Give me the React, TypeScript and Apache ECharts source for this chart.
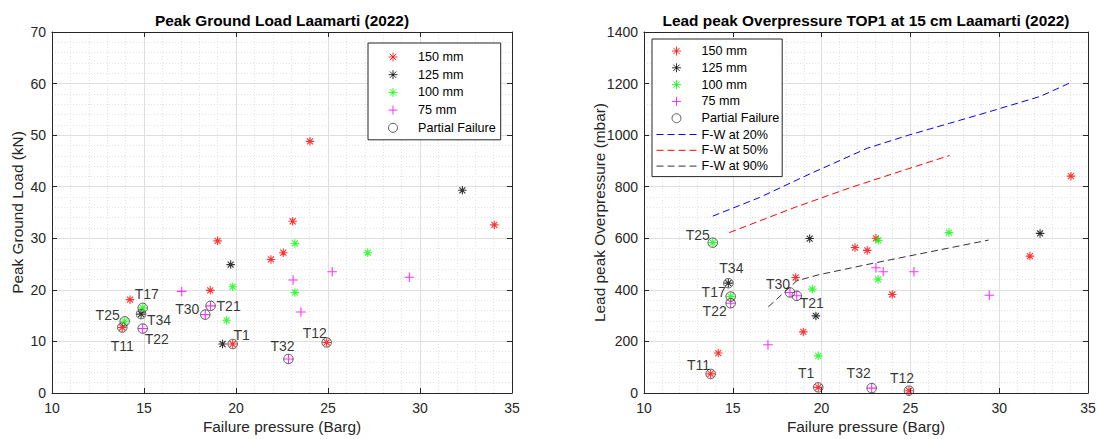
import React, { useEffect, useRef } from 'react';
import * as echarts from 'echarts';

const FONT = '"Liberation Sans", Arial, Helvetica, sans-serif';

// ---------- Left chart: Peak Ground Load ----------
const loadTitle = 'Peak Ground Load Laamarti (2022)';
const loadYName = 'Peak Ground Load (kN)';
const xName = 'Failure pressure (Barg)';
const xTicks = { min: 10, max: 35, interval: 5 };
const loadTicks = { min: 0, max: 70, interval: 10 };

const load150: number[][] = [
  [23.08, 33.3], [19.0, 29.5], [22.57, 27.2], [21.9, 25.9], [18.6, 19.9], [14.24, 18.1],
  [13.82, 12.7], [19.82, 9.5], [24.93, 9.8], [24.02, 48.8], [34.04, 32.6],
];
const load125: number[][] = [[19.71, 24.9], [14.84, 15.3], [19.27, 9.5], [32.3, 39.3]];
const load100: number[][] = [
  [23.2, 29.0], [19.82, 20.6], [23.2, 19.5], [14.93, 16.5], [13.95, 13.9], [19.49, 14.1], [27.16, 27.2],
];
const load75: number[][] = [
  [25.23, 23.5], [23.1, 21.9], [17.05, 19.7], [18.62, 16.9], [18.33, 15.2], [23.53, 15.7],
  [14.93, 12.5], [22.85, 6.6], [29.42, 22.45],
];
const loadPartialNames = ['T25', 'T17', 'T34', 'T11', 'T22', 'T30', 'T21', 'T1', 'T32', 'T12'];
const loadPartial: number[][] = [
  [13.95, 13.9], [14.93, 16.5], [14.84, 15.3], [13.82, 12.7], [14.93, 12.5],
  [18.33, 15.2], [18.62, 16.9], [19.82, 9.5], [22.85, 6.6], [24.93, 9.8],
];

// ---------- Right chart: Lead peak overpressure ----------
const opTitle = 'Lead peak Overpressure TOP1 at 15 cm Laamarti (2022)';
const opYName = 'Lead peak Overpressure (mbar)';
const opTicks = { min: 0, max: 1400, interval: 200 };

const op150: number[][] = [
  [34.04, 841], [31.73, 531], [23.06, 600], [21.88, 564], [22.57, 553], [23.98, 382],
  [18.54, 448], [18.97, 237], [14.18, 155], [13.75, 74], [19.81, 22], [24.92, 9],
];
const op125: number[][] = [[32.3, 619], [19.33, 599], [14.75, 426], [19.68, 299]];
const op100: number[][] = [
  [27.17, 622], [23.19, 592], [23.18, 441], [13.87, 583], [19.48, 403], [14.88, 374], [19.81, 144],
];
const op75: number[][] = [
  [23.06, 486], [23.47, 470], [25.2, 470], [29.44, 379], [18.22, 390], [18.6, 377],
  [14.88, 348], [16.98, 187], [22.82, 19],
];
const opPartialNames = ['T25', 'T34', 'T17', 'T22', 'T30', 'T21', 'T11', 'T1', 'T32', 'T12'];
const opPartial: number[][] = [
  [13.87, 583], [14.75, 426], [14.88, 374], [14.88, 348], [18.22, 390],
  [18.6, 377], [13.75, 74], [19.81, 22], [22.82, 19], [24.92, 9],
];
const fw20: number[][] = [
  [13.87, 686], [16.5, 758], [19.35, 850], [22.6, 950], [24.9, 1000],
  [27.2, 1046], [29.4, 1090], [32.3, 1150], [34.0, 1203],
];
const fw50: number[][] = [[14.8, 622], [18.5, 720], [21.6, 796], [24.9, 870], [27.2, 921]];
const fw90: number[][] = [[17.0, 334], [18.6, 435], [19.8, 458], [23.1, 506], [25.2, 535], [29.4, 593]];

const seriesNames = ['150 mm', '125 mm', '100 mm', '75 mm', 'Partial Failure'];
const lineNames = ['F-W at 20%', 'F-W at 50%', 'F-W at 90%'];

// ---------- styles ----------
const STAR = 'path://M5,0L5,10M0,5L10,5M1.46,1.46L8.54,8.54M8.54,1.46L1.46,8.54';
const PLUS = 'path://M5,0L5,10M0,5L10,5';
const AX = '#262626';
const DASH = [7, 4];
const lineColors: Record<string, string> = {
  'F-W at 20%': '#0000ff',
  'F-W at 50%': '#ff0000',
  'F-W at 90%': '#333333',
};

const loadLabelOffsets: Record<string, number[]> = {
  T25: [-17, -6], T17: [4, -14], T34: [18, 6], T11: [0, 18], T22: [14, 10],
  T30: [-18, -6], T21: [18, 0], T1: [9, -9], T32: [-6, -13], T12: [-12, -9],
};
const opLabelOffsets: Record<string, number[]> = {
  T25: [-15, -8], T34: [3, -15], T17: [-17, -5], T22: [-16, 8], T30: [-12, -8],
  T21: [15, 7], T11: [-12, -9], T1: [-12, -14], T32: [-13, -15], T12: [-7, -13],
};

function xAxes(gridIndex: number) {
  const base = { type: 'value', gridIndex, ...xTicks };
  return [
    {
      ...base,
      position: 'bottom',
      name: xName,
      nameLocation: 'middle',
      nameGap: 26,
      nameMoveOverlap: false,
      nameTextStyle: { fontSize: 15.4, color: AX, fontFamily: FONT },
      axisLine: { show: true, onZero: false, lineStyle: { color: AX, width: 1 } },
      axisTick: { show: true, inside: true, length: 5, lineStyle: { color: AX } },
      axisLabel: { fontSize: 14, color: AX, margin: 8, fontFamily: FONT, formatter: (v: number) => String(v) },
      splitLine: { show: true, lineStyle: { color: '#dfdfdf', width: 1 } },
      minorTick: { show: false, splitNumber: 5 },
      minorSplitLine: { show: true, lineStyle: { color: '#e2e2e2', width: 1, type: [1, 2] } },
    },
    {
      ...base,
      position: 'top',
      axisLine: { show: true, onZero: false, lineStyle: { color: AX, width: 1 } },
      axisTick: { show: true, inside: true, length: 5, lineStyle: { color: AX } },
      axisLabel: { show: false },
      splitLine: { show: false },
    },
  ];
}

function yAxes(gridIndex: number, ticks: any, name: string, nameGap: number) {
  const base = { type: 'value', gridIndex, ...ticks };
  return [
    {
      ...base,
      position: 'left',
      name,
      nameLocation: 'middle',
      nameGap,
      nameMoveOverlap: false,
      nameTextStyle: { fontSize: 15.4, color: AX, fontFamily: FONT },
      axisLine: { show: true, onZero: false, lineStyle: { color: AX, width: 1 } },
      axisTick: { show: true, inside: true, length: 5, lineStyle: { color: AX } },
      axisLabel: { fontSize: 14, color: AX, margin: 6, fontFamily: FONT, formatter: (v: number) => String(v) },
      splitLine: { show: true, lineStyle: { color: '#dfdfdf', width: 1 } },
      minorTick: { show: false, splitNumber: 5 },
      minorSplitLine: { show: true, lineStyle: { color: '#e2e2e2', width: 1, type: [1, 2] } },
    },
    {
      ...base,
      position: 'right',
      axisLine: { show: true, onZero: false, lineStyle: { color: AX, width: 1 } },
      axisTick: { show: true, inside: true, length: 5, lineStyle: { color: AX } },
      axisLabel: { show: false },
      splitLine: { show: false },
    },
  ];
}

function markerSeries(name: string, data: number[][], color: string, symbol: string, axis: number) {
  return {
    type: 'scatter',
    name,
    data,
    xAxisIndex: axis,
    yAxisIndex: axis,
    symbol,
    symbolSize: symbol === PLUS ? 9.5 : 8.5,
    itemStyle: { color: 'none', borderColor: color, borderWidth: 1.1 },
    emphasis: { disabled: true },
    z: 3,
  };
}

function partialSeries(names: string[], pts: number[][], offsets: Record<string, number[]>, axis: number) {
  return {
    type: 'scatter',
    name: 'Partial Failure',
    xAxisIndex: axis,
    yAxisIndex: axis,
    symbol: 'circle',
    symbolSize: 9.5,
    itemStyle: { color: 'none', borderColor: '#333333', borderWidth: 1 },
    label: {
      show: true,
      position: 'inside',
      formatter: '{b}',
      fontSize: 14,
      color: '#000',
      fontFamily: FONT,
    },
    emphasis: { disabled: true },
    data: pts.map((p, i) => ({ value: p, name: names[i], label: { offset: offsets[names[i]] } })),
    z: 4,
  };
}

function fwSeries(name: string, data: number[][]) {
  const color = lineColors[name];
  return {
    type: 'line',
    name,
    data,
    xAxisIndex: 2,
    yAxisIndex: 2,
    symbol: 'none',
    showSymbol: false,
    lineStyle: { color, width: 1, type: DASH },
    itemStyle: { color, opacity: 0 },
    emphasis: { disabled: true },
    z: 2,
  };
}

function legend(left: number, top: number, data: any[], gap: number, padding: number[]) {
  return {
    orient: 'vertical',
    left,
    top,
    data,
    padding,
    itemWidth: 40,
    itemHeight: 9,
    itemGap: gap,
    selectedMode: false,
    borderColor: AX,
    borderWidth: 1,
    borderRadius: 0,
    backgroundColor: '#ffffff',
    itemStyle: { borderWidth: 1 },
    lineStyle: { width: 1 },
    textStyle: { fontSize: 12.6, color: '#000', fontFamily: FONT },
  };
}

export default function App() {
  const ref = useRef<HTMLDivElement>(null);
  useEffect(() => {
    if (!ref.current) return;
    const chart = echarts.init(ref.current, null, { renderer: 'svg' });
    const lineLegendItems = lineNames.map((n) => ({
      name: n,
      lineStyle: { color: lineColors[n], width: 1, type: DASH, opacity: 1 },
      itemStyle: { color: lineColors[n], opacity: 0 },
    }));
    chart.setOption({
      animation: false,
      backgroundColor: '#ffffff',
      grid: [
        { left: 52, top: 32, right: 587, bottom: 45, containLabel: false },
        { left: 644, top: 32, right: 11, bottom: 45, containLabel: false },
      ],
      xAxis: [...xAxes(0), ...xAxes(1)],
      yAxis: [...yAxes(0, loadTicks, loadYName, 27), ...yAxes(1, opTicks, opYName, 37)],
      legend: [
        legend(368, 43, seriesNames, 3.7, [7, 5, 5, 18]),
        legend(652, 39, [...seriesNames, ...lineLegendItems], 2.8, [5, 3, 4, 4]),
      ],
      graphic: [
        {
          type: 'text',
          x: 282,
          y: 20,
          style: {
            text: loadTitle,
            fontSize: 15.4,
            fontWeight: 'bold',
            fontFamily: FONT,
            fill: '#000',
            align: 'center',
            verticalAlign: 'middle',
            textAlign: 'center',
            textVerticalAlign: 'middle',
          },
        },
        {
          type: 'text',
          x: 866,
          y: 20,
          style: {
            text: opTitle,
            fontSize: 15.4,
            fontWeight: 'bold',
            fontFamily: FONT,
            fill: '#000',
            align: 'center',
            verticalAlign: 'middle',
            textAlign: 'center',
            textVerticalAlign: 'middle',
          },
        },
      ],
      series: [
        markerSeries('150 mm', load150, '#ff0000', STAR, 0),
        markerSeries('125 mm', load125, '#000000', STAR, 0),
        markerSeries('100 mm', load100, '#00ff00', STAR, 0),
        markerSeries('75 mm', load75, '#ff00ff', PLUS, 0),
        partialSeries(loadPartialNames, loadPartial, loadLabelOffsets, 0),
        markerSeries('150 mm', op150, '#ff0000', STAR, 2),
        markerSeries('125 mm', op125, '#000000', STAR, 2),
        markerSeries('100 mm', op100, '#00ff00', STAR, 2),
        markerSeries('75 mm', op75, '#ff00ff', PLUS, 2),
        partialSeries(opPartialNames, opPartial, opLabelOffsets, 2),
        fwSeries('F-W at 20%', fw20),
        fwSeries('F-W at 50%', fw50),
        fwSeries('F-W at 90%', fw90),
      ],
    });
    return () => chart.dispose();
  }, []);
  return (
    <div
      ref={ref}
      style={{ position: 'fixed', left: 0, top: 0, width: 1099, height: 439, background: '#fff' }}
    />
  );
}
